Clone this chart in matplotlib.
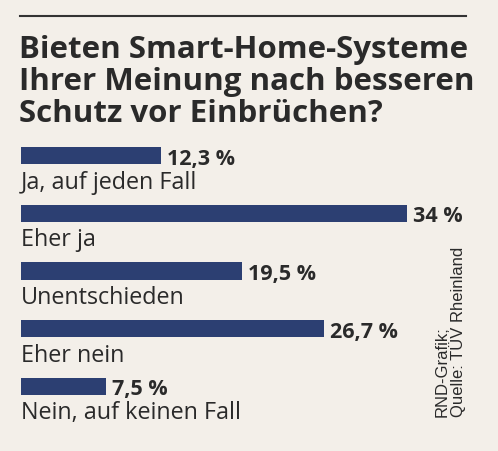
import matplotlib
matplotlib.use('Agg')
import matplotlib.pyplot as plt

title = 'Bieten Smart-Home-Systeme\nIhrer Meinung nach besseren\nSchutz vor Einbrüchen?'
categories = ['Ja, auf jeden Fall', 'Eher ja', 'Unentschieden', 'Eher nein', 'Nein, auf keinen Fall']
values = [12.3, 34, 19.5, 26.7, 7.5]
value_labels = ['12,3 %', '34 %', '19,5 %', '26,7 %', '7,5 %']
source = 'RND-Grafik;\nQuelle: TÜV Rheinland'

BG = '#f3efe9'
BAR = '#2c3f72'
TXT = '#2a2a2a'

W, H = 498, 452
fig = plt.figure(figsize=(W / 100, H / 100), dpi=100, facecolor=BG)

# rule above title
fig.add_artist(plt.Line2D([20 / W, 466 / W], [1 - 16.5 / H, 1 - 16.5 / H],
                          color='#333333', lw=1.5))

# multiline text with va='baseline' sits on the last line's baseline
fig.text(19 / W, 1 - 122 / H, title, ha='left', va='baseline',
         fontsize=22.5, fontweight='bold', family='Open Sans', color=TXT,
         linespacing=1.08)

# bars: 1 % = ~11.35 px
ax = fig.add_axes([21 / W, 36 / H, 454 / W, 288 / H])
ax.set_facecolor('none')
ax.set_xlim(0, 40)
ax.set_ylim(len(values) - 0.5, -0.5)
ax.axis('off')

ys = range(len(values))
ax.barh(ys, values, height=0.30, color=BAR, edgecolor='none')

for y, v, vl, cat in zip(ys, values, value_labels, categories):
    ax.annotate(vl, xy=(v, y), xytext=(6, -8), textcoords='offset pixels',
                ha='left', va='baseline', fontsize=15.5, fontweight='bold',
                family='Open Sans', color=TXT)
    ax.annotate(cat, xy=(0, y), xytext=(0, -32), textcoords='offset pixels',
                ha='left', va='baseline', fontsize=16.8, family='Open Sans',
                color=TXT)

fig.text(466 / W, 1 - 417 / H, source, rotation=90, ha='right', va='bottom',
         fontsize=12, family='Liberation Sans', color=TXT, linespacing=0.95,
         multialignment='left')

fig.savefig('out.png', dpi=100, facecolor=BG)
